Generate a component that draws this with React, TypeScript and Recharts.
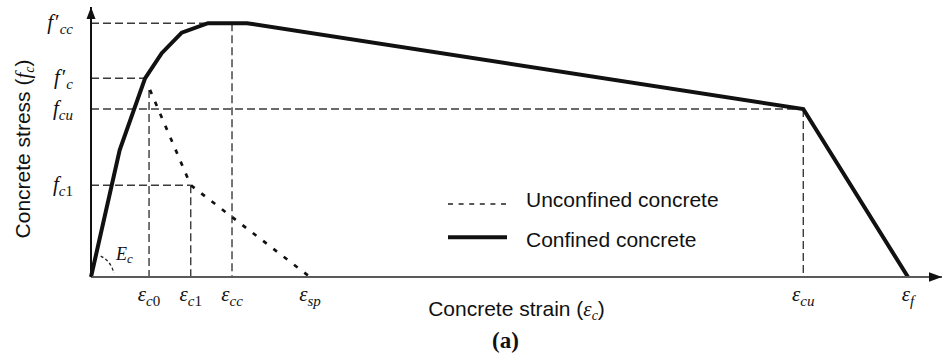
import React from 'react';
import {
  LineChart,
  Line,
  XAxis,
  YAxis,
  ReferenceLine,
  ReferenceDot,
  Legend,
} from 'recharts';

// Normalised strain (0–100) and stress (0–100) units for a schematic stress–strain diagram.
const strainTicks = [6.82, 11.72, 16.57, 25.73, 83.7, 96.0];
const strainTickSubs = ['c0', 'c1', 'cc', 'sp', 'cu', 'f'];

const stressTicks = [34.0, 62.2, 73.6, 94.0];
const stressTickSubs = ['c1', 'cu', 'c', 'cc'];
const stressTickPrime = [false, false, true, true];

// Confined concrete curve
const confinedStrain = [0, 3.37, 6.35, 8.31, 10.66, 13.75, 18.33, 83.7, 96.0];
const confinedStress = [0, 47.0, 73.6, 82.9, 90.5, 94.0, 94.0, 62.2, 0];

// Unconfined concrete descending branch
const unconfinedStrain = [6.93, 11.72, 25.73];
const unconfinedStress = [69.3, 34.0, 0];

// Dashed guide lines: [strainFrom, stressFrom, strainTo, stressTo]
const guideSegments: number[][] = [
  [0, 94.0, 16.57, 94.0],
  [16.57, 94.0, 16.57, 0],
  [0, 73.6, 6.35, 73.6],
  [6.82, 69.3, 6.82, 0],
  [0, 62.2, 83.7, 62.2],
  [83.7, 62.2, 83.7, 0],
  [0, 34.0, 11.72, 34.0],
  [11.72, 34.0, 11.72, 0],
];

const seriesNames = ['Unconfined concrete', 'Confined concrete'];

const confinedData = confinedStrain.map((s, i) => ({ strain: s, stress: confinedStress[i] }));
const unconfinedData = unconfinedStrain.map((s, i) => ({ strain: s, stress: unconfinedStress[i] }));

const SANS = '"Liberation Sans", Arial, Helvetica, sans-serif';
const MATH = '"Liberation Serif", "Times New Roman", serif';
const INK = '#111';

// Subscript letters are italic, digits upright (math typesetting convention)
const subChars = (sub: string) =>
  sub.split('').map((ch, i) => (
    <tspan key={i} fontStyle={/[0-9]/.test(ch) ? 'normal' : 'italic'}>{ch}</tspan>
  ));

const StrainTick = (props: any) => {
  const { x, y, payload } = props;
  const idx = strainTicks.indexOf(payload.value);
  const sub = strainTickSubs[idx] ?? '';
  return (
    <text x={x} y={y} textAnchor="middle" fontFamily={MATH} fontStyle="italic" fontSize={21} fill={INK}>
      <tspan>ε</tspan>
      <tspan fontSize={15} dy={5}>{subChars(sub)}</tspan>
    </text>
  );
};

const StressTick = (props: any) => {
  const { x, y, payload } = props;
  const idx = stressTicks.indexOf(payload.value);
  const sub = stressTickSubs[idx] ?? '';
  const prime = stressTickPrime[idx];
  return (
    <text x={x} y={y + 6} textAnchor="end" fontFamily={MATH} fontStyle="italic" fontSize={21} fill={INK}>
      <tspan>f</tspan>
      {prime ? <tspan fontStyle="normal" dx={2}>′</tspan> : null}
      <tspan fontSize={15} dx={prime ? 0 : 0} dy={5}>{subChars(sub)}</tspan>
    </text>
  );
};

const StressAxisTitle = (props: any) => {
  const vb = props.viewBox || { x: 0, y: 7, width: 91, height: 270 };
  const cx = vb.x + 30;
  const cy = vb.y + vb.height / 2 + 7;
  return (
    <text
      x={cx}
      y={cy}
      transform={`rotate(-90 ${cx} ${cy})`}
      textAnchor="middle"
      fontFamily={SANS}
      fontSize={21}
      fill={INK}
    >
      <tspan>Concrete stress (</tspan>
      <tspan fontFamily={MATH} fontStyle="italic">f</tspan>
      <tspan fontFamily={MATH} fontStyle="italic" fontSize={14} dy={4}>c</tspan>
      <tspan dy={-4}>)</tspan>
    </text>
  );
};

const StrainAxisTitle = (props: any) => {
  const vb = props.viewBox || { x: 91, y: 277, width: 851, height: 78 };
  const cx = vb.x + vb.width / 2;
  return (
    <g>
      <text x={cx} y={vb.y + 39} textAnchor="middle" fontFamily={SANS} fontSize={21} fill={INK}>
        <tspan>Concrete strain (</tspan>
        <tspan fontFamily={MATH} fontStyle="italic">ε</tspan>
        <tspan fontFamily={MATH} fontStyle="italic" fontSize={14} dy={4}>c</tspan>
        <tspan dy={-4}>)</tspan>
      </text>
      <text x={cx - 11} y={vb.y + 71} textAnchor="middle" fontFamily={MATH} fontWeight="bold" fontSize={23} fill={INK}>
        (a)
      </text>
    </g>
  );
};

const UpArrow = (props: any) => {
  const { cx, cy } = props;
  return <path d={`M ${cx} ${cy} L ${cx - 4.5} ${cy + 12} L ${cx + 4.5} ${cy + 12} Z`} fill={INK} />;
};

const RightArrow = (props: any) => {
  const { cx, cy } = props;
  return <path d={`M ${cx} ${cy} L ${cx - 13} ${cy - 4.7} L ${cx - 13} ${cy + 4.7} Z`} fill={INK} />;
};

const ModulusMark = (props: any) => {
  const { cx, cy } = props;
  const r = 23;
  const a1 = (65 * Math.PI) / 180;
  const a2 = (10 * Math.PI) / 180;
  const x1 = cx + r * Math.cos(a1);
  const y1 = cy - r * Math.sin(a1);
  const x2 = cx + r * Math.cos(a2);
  const y2 = cy - r * Math.sin(a2);
  return (
    <g>
      <path
        d={`M ${x1} ${y1} A ${r} ${r} 0 0 1 ${x2} ${y2}`}
        fill="none"
        stroke="#222"
        strokeWidth={1.3}
        strokeDasharray="3 2.5"
      />
      <text x={cx + 25} y={cy - 17} fontFamily={MATH} fontStyle="italic" fontSize={18} fill={INK}>
        <tspan>E</tspan>
        <tspan fontSize={13} dy={3}>c</tspan>
      </text>
    </g>
  );
};

const LegendBox = () => (
  <svg width={320} height={80} style={{ display: 'block', overflow: 'visible' }}>
    <line x1={8} x2={67} y1={24} y2={24} stroke="#222" strokeWidth={1.5} strokeDasharray="5 5.6" />
    <text x={86} y={26.7} fontFamily={SANS} fontSize={21} fill={INK}>{seriesNames[0]}</text>
    <line x1={8} x2={67} y1={57.3} y2={57.3} stroke={INK} strokeWidth={4} />
    <text x={86} y={66.5} fontFamily={SANS} fontSize={21} fill={INK}>{seriesNames[1]}</text>
  </svg>
);

export default function App() {
  return (
    <div style={{ position: 'absolute', left: 0, top: 0, background: '#fff' }}>
      <LineChart width={944} height={355} margin={{ top: 7, right: 2, bottom: 0, left: 0 }}>
        <XAxis
          dataKey="strain"
          type="number"
          domain={[0, 100]}
          ticks={strainTicks}
          interval={0}
          tickLine={false}
          tickSize={0}
          tickMargin={24}
          height={78}
          axisLine={{ stroke: '#5a5a5a', strokeWidth: 2 }}
          tick={<StrainTick />}
          label={StrainAxisTitle}
        />
        <YAxis
          type="number"
          domain={[0, 100]}
          ticks={stressTicks}
          interval={0}
          tickLine={false}
          tickSize={0}
          tickMargin={18}
          width={91}
          axisLine={{ stroke: INK, strokeWidth: 2 }}
          tick={<StressTick />}
          label={StressAxisTitle}
        />
        {guideSegments.map((g, i) => (
          <ReferenceLine
            key={`guide-${i}`}
            segment={[{ x: g[0], y: g[1] }, { x: g[2], y: g[3] }]}
            stroke="#3a3a3a"
            strokeWidth={1.4}
            strokeDasharray="8 4"
            ifOverflow="visible"
          />
        ))}
        <Line
          name={seriesNames[0]}
          data={unconfinedData}
          dataKey="stress"
          stroke={INK}
          strokeWidth={2.7}
          strokeDasharray="4.5 8.5"
          dot={false}
          activeDot={false}
          isAnimationActive={false}
        />
        <Line
          name={seriesNames[1]}
          data={confinedData}
          dataKey="stress"
          stroke={INK}
          strokeWidth={4}
          dot={false}
          activeDot={false}
          isAnimationActive={false}
        />
        <ReferenceDot x={0} y={0} r={0} shape={ModulusMark} ifOverflow="visible" />
        <ReferenceDot x={0} y={100} r={0} shape={UpArrow} ifOverflow="visible" />
        <ReferenceDot x={100} y={0} r={0} shape={RightArrow} ifOverflow="visible" />
        <Legend
          layout="vertical"
          align="center"
          verticalAlign="middle"
          wrapperStyle={{ left: 440, top: 180, width: 320, height: 80 }}
          content={() => <LegendBox />}
        />
      </LineChart>
    </div>
  );
}
